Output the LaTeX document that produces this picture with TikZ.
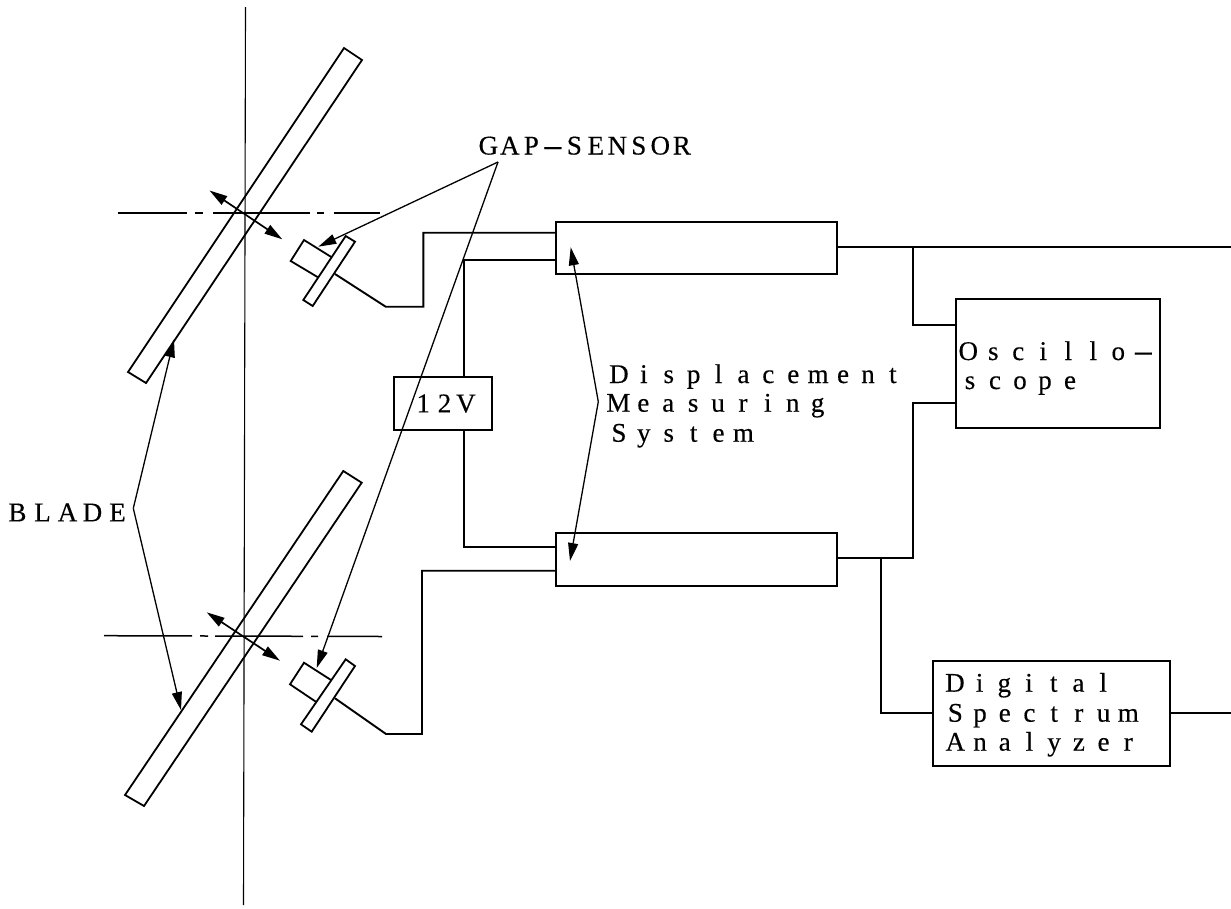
\documentclass[tikz,border=0pt]{standalone}
\usepackage{graphicx}
\usepackage{fontspec}
\setmainfont{Liberation Serif}[FakeBold=0.35]
\usetikzlibrary{arrows.meta}
\makeatletter
\newcommand\pitched[2]{\def\ptch@{#1}\@tfor\chr@:=#2\do{\makebox[\ptch@][c]{\chr@}}}
\makeatother
\newcommand\longhy{\scalebox{2.4}[1]{-}}
\tikzset{
  part/.style={draw=black,line width=1.8pt,line join=miter},
  boxnode/.style={rectangle,draw=black,line width=1.9pt,inner sep=0pt,outer sep=0pt},
  wire/.style={draw=black,line width=1.9pt,line join=miter},
  axis/.style={draw=black,line width=1.1pt},
  leader/.style={draw=black,line width=1.3pt,line join=bevel},
  tip/.style={-{Triangle[length=18pt,width=10pt]}},
  motion/.style={draw=black,line width=1.7pt,{Triangle[length=18pt,width=10pt]}-{Triangle[length=18pt,width=10pt]}},
  typed/.style={anchor=base west,inner sep=0pt,outer sep=0pt,font=\fontsize{27}{29}\selectfont},
}
\begin{document}
\begin{tikzpicture}[x=1pt,y=-1pt]
\useasboundingbox (0,0) rectangle (1231,908);
\fill[white] (0,0) rectangle (1231,908);

% axes
\coordinate (axT) at (245.5,7); \coordinate (axB) at (243.5,905);
\draw[axis] (axT) -- (axB);
\coordinate (d1a) at (118,213); \coordinate (d1b) at (380,213);
\draw[axis,line width=1.5pt,dash pattern=on 69pt off 8pt on 8pt off 10pt on 97pt off 7pt on 7pt off 10pt on 46pt off 100pt] (d1a) -- (d1b);
\coordinate (d2a) at (104,635.7); \coordinate (d2b) at (382,636.5);
\draw[axis,line width=1.5pt,dash pattern=on 88pt off 8pt on 8pt off 7pt on 88pt off 8pt on 7pt off 9pt on 55pt off 100pt] (d2a) -- (d2b);

% blades
\draw[part] (344,48) -- (362,60) -- (146,383) -- (128,372) -- cycle;
\draw[part] (343.3,471) -- (361.7,482.7) -- (144,806) -- (125,795) -- cycle;

% sensors
\draw[part] (331.7,257.3) -- (304,240) -- (290.7,261) -- (318,277.3);
\draw[part] (345.7,236) -- (355,241.7) -- (312.7,306) -- (303.3,300) -- cycle;
\draw[part] (331,680) -- (304,662.7) -- (290,684.3) -- (316.7,702.3);
\draw[part] (345.7,659.3) -- (355,666) -- (311.7,731.7) -- (301,724.3) -- cycle;

% motion arrows
\coordinate (m1a) at (209.5,190.5); \coordinate (m1b) at (282.3,239.3);
\coordinate (m2a) at (206.7,612.3); \coordinate (m2b) at (280,660.7);
\draw[motion] (m1a) -- (m1b);
\draw[motion] (m2a) -- (m2b);

% boxes
\node[boxnode,minimum width=281pt,minimum height=52pt] (dms1) at (696.5,248) {};
\node[boxnode,minimum width=281pt,minimum height=52.4pt] (dms2) at (696.5,559.5) {};
\node[boxnode,minimum width=98.3pt,minimum height=52.7pt] (volt) at (443.2,403.7) {};
\node[boxnode,minimum width=204.6pt,minimum height=129.3pt] (osc) at (1058,363.7) {};
\node[boxnode,minimum width=236.7pt,minimum height=105pt] (dsa) at (1051.7,713.2) {};

% wires
\coordinate (s1w) at (335,274); \coordinate (s2w) at (335,698.3);
\coordinate (out1) at (1231,247.3); \coordinate (out2) at (1231,713.3);
\draw[wire] (s1w) -- (385.7,306.7) -- (423.3,306.7) -- (423.3,232.7) -- (dms1.west |- 0,232.7);
\draw[wire] (s2w) -- (386,734) -- (422,734) -- (422,570.7) -- (dms2.west |- 0,570.7);
\draw[wire] (dms1.west |- 0,260) -- (464.3,260) -- (volt.north -| 464.3,0);
\draw[wire] (volt.south -| 464,0) -- (464,546.7) -- (dms2.west |- 0,546.7);
\draw[wire] (dms1.east |- out1) -- (out1);
\draw[wire] (913.3,247.3) -- (913.3,325) -- (osc.west |- 0,325);
\draw[wire] (osc.west |- 0,402.7) -- (913.3,402.7) -- (913.3,558.3) -- (dms2.east |- 0,558.3);
\draw[wire] (880.7,558.3) -- (880.7,713.3) -- (dsa.west |- 0,713.3);
\draw[wire] (dsa.east |- out2) -- (out2);

% leaders
\coordinate (gapV) at (498,162);
\coordinate (gapT1) at (318.3,246.7); \coordinate (gapT2) at (316.7,668);
\draw[leader,tip] (gapV) -- (gapT1);
\draw[leader,tip] (gapV) -- (gapT2);
\coordinate (bladeV) at (133.3,508.3);
\coordinate (bladeT1) at (174,339.3); \coordinate (bladeT2) at (181,710);
\draw[leader,tip] (bladeV) -- (bladeT1);
\draw[leader,tip] (bladeV) -- (bladeT2);
\coordinate (dmsV) at (598.3,401.7);
\coordinate (dmsT1) at (570.7,247.3); \coordinate (dmsT2) at (570,561);
\draw[leader,tip] (dmsV) -- (dmsT1);
\draw[leader,tip] (dmsV) -- (dmsT2);

% texts
\node[typed] (tGap) at (477.6,154.5) {\pitched{21.5pt}{GAP\longhy SENSOR}};
\node[typed] (tBlade) at (5,521.3) {\pitched{25pt}{BLADE}};
\node[typed] (tV) at (412.6,412.3) {\pitched{21.3pt}{12V}};
\node[typed] (tD1) at (606.5,383) {\pitched{24.9pt}{Displacement}};
\node[typed] (tD2) at (606,411.7) {\pitched{24.9pt}{Measuring}};
\node[typed] (tD3) at (606.5,441.7) {\pitched{24.9pt}{System}};
\node[typed] (tO1) at (955.8,360) {\pitched{25pt}{Oscillo\longhy}};
\node[typed] (tO2) at (957.5,389) {\pitched{25pt}{scope}};
\node[typed] (tS1) at (942.6,691.7) {\pitched{24.7pt}{Digital}};
\node[typed] (tS2) at (943,721.7) {\pitched{24.7pt}{Spectrum}};
\node[typed] (tS3) at (943,750.7) {\pitched{24.7pt}{Analyzer}};
\end{tikzpicture}
\end{document}
